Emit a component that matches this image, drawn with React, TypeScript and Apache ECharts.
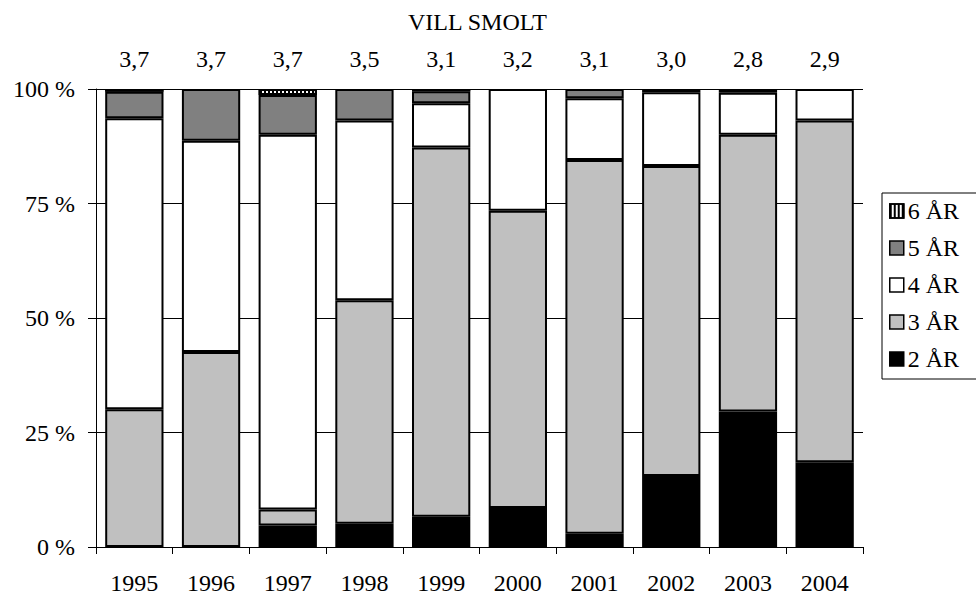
import React, { useEffect, useRef } from "react";
import * as echarts from "echarts";

const years = ["1995", "1996", "1997", "1998", "1999", "2000", "2001", "2002", "2003", "2004"];
const meanAge = ["3,7", "3,7", "3,7", "3,5", "3,1", "3,2", "3,1", "3,0", "2,8", "2,9"];
const age2 = [0, 0, 4.7, 5.1, 6.6, 8.5, 2.9, 15.5, 29.6, 18.5];
const age3 = [30.1, 42.6, 3.5, 48.8, 80.6, 64.9, 81.6, 67.7, 60.4, 74.6];
const age4 = [63.5, 46.1, 81.8, 39.2, 9.7, 26.6, 13.5, 16.1, 9.2, 6.9];
const age5 = [5.8, 11.3, 8.7, 6.9, 2.6, 0, 2.0, 0.7, 0.8, 0];
const age6 = [0.6, 0, 1.3, 0, 0.5, 0, 0, 0, 0, 0];
const yTicks = [0, 25, 50, 75, 100];

const FONT = "'Liberation Serif', 'Times New Roman', serif";

export default function App() {
  const ref = useRef<HTMLDivElement>(null);
  useEffect(() => {
    if (!ref.current) return;
    const chart = echarts.init(ref.current, undefined, { renderer: "svg" });
    const mk = (name: string, data: number[], color: string, extra: any = {}) => ({
      name,
      type: "bar",
      stack: "all",
      xAxisIndex: 0,
      barCategoryGap: "24%",
      data: data.map((v) => (v === 0 ? "-" : v)),
      itemStyle: { color, borderColor: "#000", borderWidth: 2, ...extra },
    });
    chart.setOption({
      animation: false,
      textStyle: { fontFamily: FONT, color: "#000" },
      title: {
        text: "VILL SMOLT",
        left: 403,
        top: 5,
        textStyle: { fontFamily: FONT, fontSize: 24, fontWeight: "normal", color: "#000" },
      },
      legend: {
        orient: "vertical",
        left: 882,
        top: 193,
        width: 120,
        padding: [6, 40, 8, 7],
        borderColor: "#000",
        borderWidth: 1,
        itemWidth: 14,
        itemHeight: 14,
        itemGap: 13,
        icon: "rect",
        data: ["6 ÅR", "5 ÅR", "4 ÅR", "3 ÅR", "2 ÅR"],
        itemStyle: { borderWidth: 1.5 },
        textStyle: { fontFamily: FONT, fontSize: 24, color: "#000", lineHeight: 24, padding: [0, 0, 0, -1] },
      },
      grid: { left: 96, right: 113, top: 89, bottom: 51, containLabel: false },
      xAxis: [
        {
          type: "category",
          data: years,
          position: "bottom",
          axisLine: { lineStyle: { color: "#000", width: 1 } },
          axisTick: { show: true, length: 7, lineStyle: { color: "#000" } },
          axisLabel: { fontFamily: FONT, fontSize: 24, color: "#000", margin: 24 },
        },
        {
          type: "category",
          data: meanAge,
          position: "top",
          axisLine: { show: false },
          axisTick: { show: false },
          axisLabel: { fontFamily: FONT, fontSize: 24, color: "#000", margin: 18 },
        },
      ],
      yAxis: {
        type: "value",
        min: yTicks[0],
        max: yTicks[yTicks.length - 1],
        interval: 25,
        axisLine: { show: true, lineStyle: { color: "#000", width: 1 } },
        axisTick: { show: true, length: 8, lineStyle: { color: "#000" } },
        splitLine: { lineStyle: { color: "#000", width: 1 } },
        axisLabel: { fontFamily: FONT, fontSize: 24, color: "#000", margin: 21, formatter: "{value} %" },
      },
      series: [
        mk("2 ÅR", age2, "#000000"),
        mk("3 ÅR", age3, "#c0c0c0"),
        mk("4 ÅR", age4, "#ffffff"),
        mk("5 ÅR", age5, "#808080"),
        mk("6 ÅR", age6, "#ffffff", {
          decal: {
            symbol: "rect",
            symbolSize: 1,
            dashArrayX: [2, 2],
            dashArrayY: [1, 0],
            color: "#000",
            rotation: 0,
          },
        }),
      ],
    });
    return () => chart.dispose();
  }, []);
  return (
    <div
      ref={ref}
      style={{ position: "fixed", left: 0, top: 0, width: 976, height: 598, background: "#fff" }}
    />
  );
}
